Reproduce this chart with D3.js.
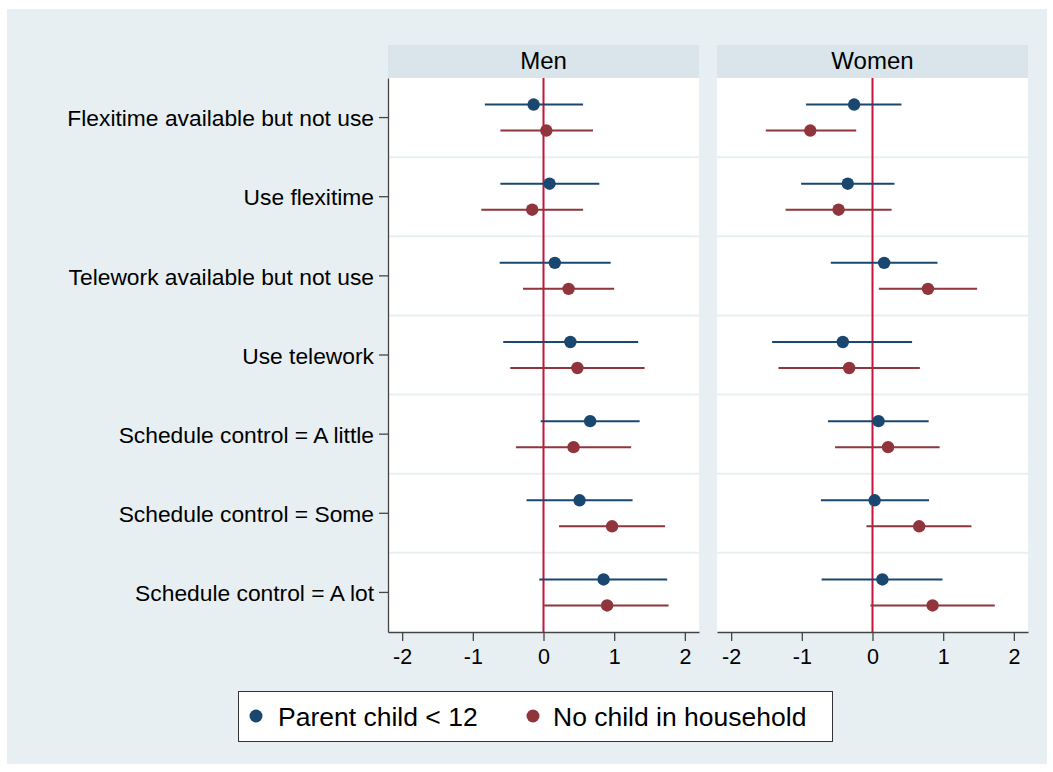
<!DOCTYPE html>
<html>
<head>
<meta charset="utf-8">
<script src="https://cdn.jsdelivr.net/npm/d3@7"></script>
<style>
  html, body { margin: 0; padding: 0; background: #ffffff; }
  svg { display: block; font-family: "Liberation Sans", Arial, Helvetica, sans-serif; }
</style>
</head>
<body>
<svg id="chart" width="1053" height="772"></svg>
<script>
// Row labels (top to bottom)
const categories = [
  "Flexitime available but not use",
  "Use flexitime",
  "Telework available but not use",
  "Use telework",
  "Schedule control = A little",
  "Schedule control = Some",
  "Schedule control = A lot"
];
const panels = ["Men", "Women"];
const seriesNames = ["Parent child < 12", "No child in household"];
const xTicks = [-2, -1, 0, 1, 2];

// Point estimates and confidence bounds, one value per category
const menParentEst  = [-0.14, 0.085, 0.16, 0.38, 0.66, 0.51, 0.85];
const menParentLo   = [-0.83, -0.61, -0.62, -0.57, -0.04, -0.24, -0.06];
const menParentHi   = [0.56, 0.79, 0.95, 1.34, 1.36, 1.26, 1.75];
const menNoChildEst = [0.04, -0.16, 0.355, 0.48, 0.425, 0.97, 0.90];
const menNoChildLo  = [-0.61, -0.88, -0.29, -0.47, -0.39, 0.22, 0.01];
const menNoChildHi  = [0.70, 0.56, 1.00, 1.43, 1.24, 1.72, 1.77];

const womenParentEst  = [-0.26, -0.35, 0.165, -0.42, 0.085, 0.03, 0.14];
const womenParentLo   = [-0.94, -1.01, -0.59, -1.42, -0.63, -0.73, -0.72];
const womenParentHi   = [0.41, 0.31, 0.92, 0.56, 0.795, 0.80, 0.99];
const womenNoChildEst = [-0.88, -0.48, 0.785, -0.33, 0.22, 0.66, 0.85];
const womenNoChildLo  = [-1.51, -1.23, 0.09, -1.33, -0.53, -0.085, -0.03];
const womenNoChildHi  = [-0.23, 0.27, 1.48, 0.67, 0.95, 1.40, 1.73];

const colors = ["#1a476f", "#90353b"];
const refColor = "#c8143c";

function rows(est, lo, hi) {
  return categories.map((c, i) => ({ cat: c, est: est[i], lo: lo[i], hi: hi[i] }));
}
const panelData = {
  Men: [rows(menParentEst, menParentLo, menParentHi), rows(menNoChildEst, menNoChildLo, menNoChildHi)],
  Women: [rows(womenParentEst, womenParentLo, womenParentHi), rows(womenNoChildEst, womenNoChildLo, womenNoChildHi)]
};

const svg = d3.select("#chart");

// Outer graph region
svg.append("rect").attr("x", 7).attr("y", 9).attr("width", 1040).attr("height", 755).attr("fill", "#e8eff2");

const plotTop = 78, plotBottom = 632, headerTop = 45;
const panelX = { Men: [388, 699], Women: [717, 1028] };

const y = d3.scaleBand().domain(categories).range([plotTop, plotBottom]);
const offset = 13;

panels.forEach((p, pi) => {
  const [x0, x1] = panelX[p];
  const x = d3.scaleLinear().domain([-2.2, 2.2]).range([x0, x1]);
  const g = svg.append("g");

  // header strip
  g.append("rect").attr("x", x0).attr("y", headerTop).attr("width", x1 - x0).attr("height", plotTop - headerTop)
    .attr("fill", "#d9e5eb");
  g.append("text").attr("x", (x0 + x1) / 2).attr("y", 69)
    .attr("text-anchor", "middle").attr("font-size", 24).attr("fill", "#000").text(p);

  // plot region
  g.append("rect").attr("x", x0).attr("y", plotTop).attr("width", x1 - x0).attr("height", plotBottom - plotTop)
    .attr("fill", "#ffffff");

  // separators between rows
  g.selectAll("line.sep").data(categories.slice(1)).join("line")
    .attr("x1", x0).attr("x2", x1)
    .attr("y1", d => y(d)).attr("y2", d => y(d))
    .attr("stroke", "#e8eff2").attr("stroke-width", 2);

  // reference line at zero
  g.append("line").attr("x1", x(0)).attr("x2", x(0)).attr("y1", plotTop).attr("y2", plotBottom)
    .attr("stroke", refColor).attr("stroke-width", 2);

  // series
  panelData[p].forEach((series, si) => {
    const dy = si === 0 ? -offset : offset;
    const sg = g.append("g");
    sg.selectAll("line").data(series).join("line")
      .attr("x1", d => x(d.lo)).attr("x2", d => x(d.hi))
      .attr("y1", d => y(d.cat) + y.bandwidth() / 2 + dy)
      .attr("y2", d => y(d.cat) + y.bandwidth() / 2 + dy)
      .attr("stroke", colors[si]).attr("stroke-width", 2);
    sg.selectAll("circle").data(series).join("circle")
      .attr("cx", d => x(d.est))
      .attr("cy", d => y(d.cat) + y.bandwidth() / 2 + dy)
      .attr("r", 6.2).attr("fill", colors[si]);
  });

  // bottom axis
  const xa = g.append("g").attr("transform", `translate(0,${plotBottom})`)
    .call(d3.axisBottom(x).tickValues(xTicks).tickSize(9).tickSizeOuter(0).tickPadding(8)
      .tickFormat(d => d < 0 ? "-" + Math.abs(d) : String(d)));
  xa.select(".domain").attr("stroke", "#444").attr("stroke-width", 1.3);
  xa.selectAll(".tick line").attr("stroke", "#444").attr("stroke-width", 1.3);
  xa.selectAll("text").attr("font-size", 21.5).attr("fill", "#000").attr("font-family", "Liberation Sans, Arial, sans-serif");

  // left axis on first panel only
  if (pi === 0) {
    const ya = g.append("g").attr("transform", `translate(${x0},0)`)
      .call(d3.axisLeft(y).tickSize(9).tickSizeOuter(0).tickPadding(5));
    ya.select(".domain").attr("stroke", "#444").attr("stroke-width", 1.3);
    ya.selectAll(".tick line").attr("stroke", "#444").attr("stroke-width", 1.3);
    ya.selectAll("text").attr("font-size", 22.8).attr("dy", "0.38em").attr("fill", "#000")
      .attr("font-family", "Liberation Sans, Arial, sans-serif");
  }
});

// legend
const lg = svg.append("g");
lg.append("rect").attr("x", 238.5).attr("y", 691.5).attr("width", 594).attr("height", 50)
  .attr("fill", "#ffffff").attr("stroke", "#333").attr("stroke-width", 1);
const legendX = [[256, 278], [533, 553]];
seriesNames.forEach((n, i) => {
  lg.append("circle").attr("cx", legendX[i][0]).attr("cy", 716).attr("r", 6.5).attr("fill", colors[i]);
  lg.append("text").attr("x", legendX[i][1]).attr("y", 726).attr("font-size", 26.5).attr("fill", "#000").text(n);
});
</script>
</body>
</html>
